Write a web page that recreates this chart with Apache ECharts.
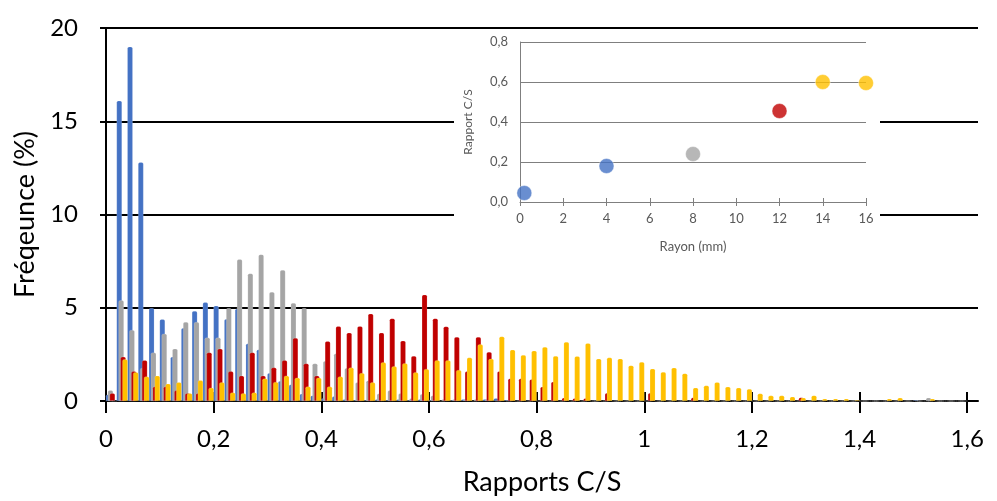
<!DOCTYPE html>
<html>
<head>
<meta charset="utf-8">
<script src="https://cdn.jsdelivr.net/npm/echarts@6/dist/echarts.min.js"></script>
<style>
html,body{margin:0;padding:0;background:#fff;}
#c{width:997px;height:501px;}
</style>
</head>
<body>
<div id="c"></div>
<script>
// Histogram bin centres (Rapports C/S)
const bins = [0.01,0.03,0.05,0.07,0.09,0.11,0.13,0.15,0.17,0.19,
  0.21,0.23,0.25,0.27,0.29,0.31,0.33,0.35,0.37,0.39,
  0.41,0.43,0.45,0.47,0.49,0.51,0.53,0.55,0.57,0.59,
  0.61,0.63,0.65,0.67,0.69,0.71,0.73,0.75,0.77,0.79,
  0.81,0.83,0.85,0.87,0.89,0.91,0.93,0.95,0.97,0.99,
  1.01,1.03,1.05,1.07,1.09,1.11,1.13,1.15,1.17,1.19,
  1.21,1.23,1.25,1.27,1.29,1.31,1.33,1.35,1.37,1.39,
  1.41,1.43,1.45,1.47,1.49,1.51,1.53,1.55,1.57,1.59];

const blue = [0.35,16.1,19.0,12.8,4.98,4.39,2.37,3.92,4.82,5.29,
  5.11,4.4,4.95,3.08,2.76,1.5,1.07,0.89,0.39,0.3,
  0.15,0.25,0.1,0.05,0.05,0.1,0.05,0.1,0.05,0.1,
  0.05,0,0.05,0.1,0,0.1,0.15,0.05,0,0,
  0,0,0,0,0,0,0,0,0,0,
  0,0,0,0,0,0,0,0,0,0,
  0,0,0,0,0,0,0,0,0,0,
  0,0,0,0,0,0.06,0,0,0,0];

const gray = [0.58,5.4,3.81,1.77,2.6,3.61,2.8,4.23,4.23,3.4,
  3.4,4.98,7.6,6.84,7.86,5.85,7.02,5.25,4.98,2.01,
  2.15,2.55,1.77,1.0,1.1,0.4,0.57,0.41,0.15,0.37,
  0.3,0.1,0.1,0.05,0.1,0.05,0,0,0,0,
  0,0,0,0,0,0,0,0,0,0,
  0,0,0,0,0,0,0,0,0,0,
  0,0,0,0,0,0,0,0,0,0,
  0,0,0,0,0,0,0.17,0,0,0];

const red = [0.42,2.37,1.59,2.19,0.78,0.78,0.57,0.42,0.42,2.6,
  2.8,1.59,1.36,2.6,1.36,1.79,2.19,3.38,2.01,1.36,
  3.21,4.01,3.66,4.01,4.68,3.66,4.43,3.23,2.41,5.7,
  4.43,4.0,3.43,1.6,3.43,2.63,1.6,1.21,1.21,1.17,
  0.77,1.03,0.17,0.15,0.15,0,0.43,0,0,0,
  0.43,0,0,0,0.19,0,0,0,0,0,
  0,0,0,0,0.19,0,0,0,0,0,
  0,0,0,0,0,0,0,0,0,0];

const yellow = [0,2.24,1.54,1.32,1.36,0.93,1.0,0.42,1.11,0.71,
  1.0,0.46,0.42,0.46,1.2,1.02,1.36,1.25,0.78,1.25,
  0.78,1.32,1.79,1.5,1.0,2.08,1.86,2.03,1.54,1.72,
  2.19,2.19,1.66,2.33,3.04,2.26,3.46,2.75,2.46,2.7,
  2.9,2.41,3.17,2.4,3.1,2.27,2.33,2.27,1.91,2.09,
  1.73,1.55,1.78,1.48,0.71,0.83,1.01,0.76,0.71,0.65,
  0.4,0.29,0.29,0.23,0.18,0.3,0.12,0.12,0.12,0.06,
  0,0,0.12,0.17,0,0,0.12,0,0,0];

// Main axis ticks
const xTicks = [0,0.2,0.4,0.6,0.8,1,1.2,1.4,1.6];
const yTicks = [0,5,10,15,20];

// Inset: Rapport C/S vs Rayon (mm)
const rayon = [0.2,4,8,12,14,16];
const rapport = [0.045,0.18,0.24,0.455,0.60,0.595];
const insetXTicks = [0,2,4,6,8,10,12,14,16];

const C_BLUE = '#4472C4', C_GRAY = '#A5A5A5', C_RED = '#C00000', C_YEL = '#FFC000';
const pointColors = [C_BLUE, C_BLUE, C_GRAY, C_RED, C_YEL, C_YEL];

const FONT = 'Lato, "Open Sans", sans-serif';
const fmtComma = (v, d) => {
  const s = d === undefined ? String(parseFloat(Number(v).toFixed(2))) : Number(v).toFixed(d);
  return s.replace('.', ',');
};

const pairs = arr => bins.map((b, i) => [b, arr[i]]);

const barBase = {
  type: 'bar', xAxisIndex: 0, yAxisIndex: 0,
  barWidth: 5.5, barGap: '-65%',
  z: 2
};
function barSeries(name, arr, color) {
  return Object.assign({}, barBase, {
    name, data: pairs(arr),
    itemStyle: { color, borderRadius: [1.5,1.5,0,0], borderColor: 'rgba(255,255,255,0.3)', borderWidth: 0.5 }
  });
}

const chart = echarts.init(document.getElementById('c'), null, { renderer: 'canvas' });
const MAIN = { left: 106, top: 28, width: 872, height: 373 };
const INSET = { left: 520, top: 42, width: 346, height: 160 };

chart.setOption({
  animation: false,
  backgroundColor: '#fff',
  textStyle: { fontFamily: FONT },
  grid: [
    Object.assign({}, MAIN),
    Object.assign({}, INSET),
    Object.assign({}, MAIN),
    Object.assign({}, INSET)
  ],
  graphic: {
    elements: [{
      type: 'rect', z: 5,
      shape: { x: 454, y: 31, width: 426, height: 227 },
      style: { fill: '#ffffff' }
    }]
  },
  xAxis: [
    { // main
      type: 'value', gridIndex: 0, min: 0, max: 1.62,
      axisLine: { show: true, onZero: false, lineStyle: { color: '#000', width: 2 } },
      axisTick: { show: true, length: 12, lineStyle: { color: '#000', width: 2 }, customValues: xTicks },
      axisLabel: { color: '#000', fontSize: 24, fontFamily: FONT, margin: 26, customValues: xTicks,
        formatter: v => fmtComma(v) },
      splitLine: { show: false },
      name: 'Rapports C/S', nameLocation: 'middle', nameGap: 68,
      nameTextStyle: { color: '#000', fontSize: 27, fontFamily: FONT }
    },
    { // main overlay ticks (inside part)
      type: 'value', gridIndex: 2, min: 0, max: 1.62,
      axisLine: { show: false },
      axisTick: { show: true, inside: true, length: 9, lineStyle: { color: '#000', width: 2 }, customValues: xTicks },
      axisLabel: { show: false },
      splitLine: { show: false }
    },
    { // inset
      type: 'value', gridIndex: 1, min: 0, max: 16, interval: 2, z: 10,
      axisLine: { show: true, onZero: false, lineStyle: { color: '#7f7f7f', width: 1 } },
      axisTick: { show: true, length: 4, lineStyle: { color: '#7f7f7f', width: 1 } },
      axisLabel: { color: '#595959', fontSize: 13, fontFamily: FONT, margin: 10 },
      splitLine: { show: false },
      name: 'Rayon (mm)', nameLocation: 'middle', nameGap: 38,
      nameTextStyle: { color: '#595959', fontSize: 13, fontFamily: FONT }
    },
    { // inset overlay ticks
      type: 'value', gridIndex: 3, min: 0, max: 16, interval: 2, z: 10,
      axisLine: { show: false },
      axisTick: { show: true, inside: true, length: 4, lineStyle: { color: '#7f7f7f', width: 1 } },
      axisLabel: { show: false },
      splitLine: { show: false }
    }
  ],
  yAxis: [
    { // main
      type: 'value', gridIndex: 0, min: 0, max: 20, interval: 5,
      axisLine: { show: true, lineStyle: { color: '#000', width: 2 } },
      axisTick: { show: true, length: 6, lineStyle: { color: '#000', width: 2 } },
      axisLabel: { color: '#000', fontSize: 24, fontFamily: FONT, margin: 28 },
      splitLine: { show: true, lineStyle: { color: '#000', width: 2 } },
      name: 'Fréqeunce (%)', nameLocation: 'middle', nameGap: 64, nameRotate: 90,
      nameTextStyle: { color: '#000', fontSize: 27, fontFamily: FONT }
    },
    { // inset
      type: 'value', gridIndex: 1, min: 0, max: 0.8, interval: 0.2, z: 10,
      axisLine: { show: true, lineStyle: { color: '#7f7f7f', width: 1 } },
      axisTick: { show: false },
      axisLabel: { color: '#595959', fontSize: 13, fontFamily: FONT, margin: 12,
        formatter: v => fmtComma(v, 1) },
      splitLine: { show: true, lineStyle: { color: '#7f7f7f', width: 1 } },
      name: 'Rapport C/S', nameLocation: 'middle', nameGap: 46, nameRotate: 90,
      nameTextStyle: { color: '#595959', fontSize: 12, fontFamily: FONT }
    },
    { type: 'value', gridIndex: 2, min: 0, max: 20, show: false },
    { type: 'value', gridIndex: 3, min: 0, max: 0.8, show: false }
  ],
  series: [
    barSeries('Bleu', blue, C_BLUE),
    barSeries('Gris', gray, C_GRAY),
    barSeries('Rouge', red, C_RED),
    barSeries('Jaune', yellow, C_YEL),
    {
      type: 'scatter', xAxisIndex: 2, yAxisIndex: 1, z: 12,
      symbolSize: 15,
      data: rayon.map((r, i) => ({ value: [r, rapport[i]], itemStyle: { color: pointColors[i] } })),
      itemStyle: { borderColor: 'rgba(255,255,255,0.5)', borderWidth: 1 }
    }
  ]
});
</script>
</body>
</html>
